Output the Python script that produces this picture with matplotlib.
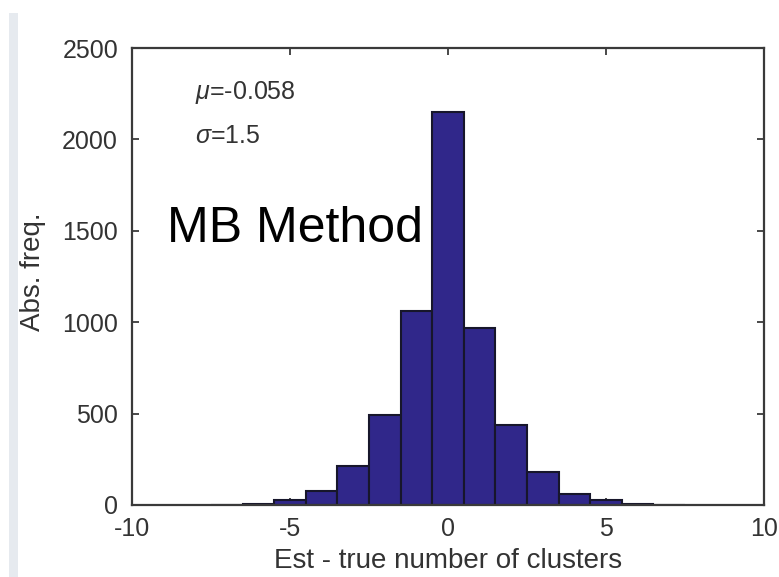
import matplotlib
matplotlib.use("Agg")
import matplotlib.pyplot as plt
from matplotlib.patches import Rectangle
import numpy as np

# Histogram of (estimated - true) number of clusters
offsets = [-7, -6, -5, -4, -3, -2, -1, 0, 1, 2, 3, 4, 5, 6, 7]
counts = [2, 8, 30, 75, 213, 492, 1060, 2150, 970, 440, 180, 60, 25, 8, 2]
x_ticks = [-10, -5, 0, 5, 10]
y_ticks = [0, 500, 1000, 1500, 2000, 2500]
mu_text = r"$\mu$=-0.058"
sigma_text = r"$\sigma$=1.5"

plt.rcParams["font.family"] = ["Liberation Sans", "DejaVu Sans"]
plt.rcParams["mathtext.fontset"] = "custom"
plt.rcParams["mathtext.it"] = "Liberation Sans:italic"
plt.rcParams["mathtext.rm"] = "Liberation Sans"
plt.rcParams["axes.unicode_minus"] = False

W, H = 779, 577
fig = plt.figure(figsize=(W / 100, H / 100), dpi=100)


def fx(px):
    return px / W


def fy(py):
    return 1 - py / H


# light strip on the left edge
fig.patches.append(Rectangle((fx(9), 0), fx(18) - fx(9), fy(13), transform=fig.transFigure,
                             facecolor="#e6eaef", edgecolor="none", zorder=0))

left, right, top, bottom = 132, 764, 48, 505
ax = fig.add_axes([fx(left), fy(bottom), fx(right) - fx(left), fy(top) - fy(bottom)])

ax.bar(offsets, counts, width=1.0, color="#30278a", edgecolor="#17162b", linewidth=1.5, zorder=2)

ax.set_xlim(-10, 10)
ax.set_ylim(0, 2500)
ax.set_xticks(x_ticks)
ax.set_yticks(y_ticks)
ax.tick_params(axis="both", direction="in", top=True, right=True, length=5, width=1.3,
               color="#3a3a3a", labelcolor="#333333", labelsize=18)
ax.tick_params(axis="x", pad=9)
ax.tick_params(axis="y", pad=10)
for s in ax.spines.values():
    s.set_linewidth(1.6)
    s.set_color("#3a3a3a")

fig.text(fx(448), fy(561), "Est - true number of clusters", ha="center", va="center",
         fontsize=20, color="#333333")
fig.text(fx(33), fy(272), "Abs. freq.", ha="center", va="center", rotation=90,
         fontsize=20, color="#333333")

fig.text(fx(195), fy(93), mu_text, ha="left", va="center", fontsize=18, color="#333333")
fig.text(fx(195), fy(136), sigma_text, ha="left", va="center", fontsize=18, color="#333333")

fig.text(fx(167), fy(242), "MB Method", ha="left", va="baseline", fontsize=36, color="black")

fig.savefig("out.png", dpi=100)
